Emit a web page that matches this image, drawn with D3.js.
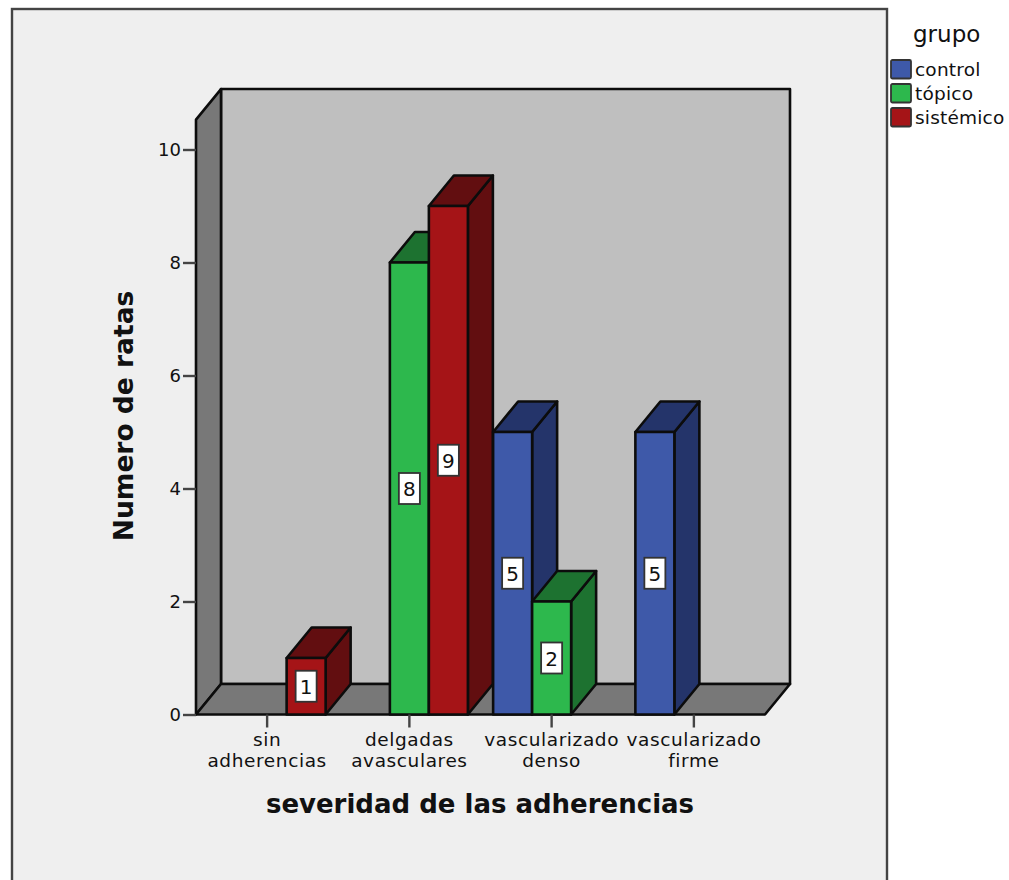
<!DOCTYPE html>
<html>
<head>
<meta charset="utf-8">
<script src="https://cdn.jsdelivr.net/npm/d3@7"></script>
<style>
    html, body { margin: 0; padding: 0; background: #fff; }
    svg { display: block; }
    text { font-family: "DejaVu Sans", sans-serif; fill: #111; }
</style>
</head>
<body>
<script>
var categories = ["sin adherencias", "delgadas avasculares", "vascularizado denso", "vascularizado firme"];
var groups = ["control", "tópico", "sistémico"];
var control = [0, 0, 5, 5];
var topico = [0, 8, 2, 0];
var sistemico = [1, 9, 0, 0];
var yTicks = [0, 2, 4, 6, 8, 10];

var frontColors = ["#3e59a9", "#2db84d", "#a51417"];
var sideColors = ["#24346a", "#1d7230", "#620e10"];

function main() {
    var width = 1009, height = 880;
    var depthX = 25, depthY = 30.5;
    var ink = "#0c0c0c";

    var svg = d3.select("body").append("svg")
        .attr("width", width).attr("height", height);

    // outer frame, runs off the bottom of the page
    svg.append("rect")
        .attr("x", 12).attr("y", 9).attr("width", 875).attr("height", 900)
        .attr("fill", "#efefef").attr("stroke", "#444").attr("stroke-width", 2.4);

    var x = d3.scaleBand().domain(categories).range([196, 765]);
    var y = d3.scaleLinear().domain([0, 10]).range([714.5, 149.5]);
    var inner = d3.scaleBand().domain(groups).range([0, 117])
        .paddingInner(0).paddingOuter(0);

    var floorY = y(0), topY = y(10.53);
    var left = x.range()[0], right = x.range()[1];

    function poly(points, fill) {
        return svg.append("polygon")
            .attr("points", points.map(function(p) { return p.join(","); }).join(" "))
            .attr("fill", fill)
            .attr("stroke", ink).attr("stroke-width", 2.6)
            .attr("stroke-linejoin", "round");
    }

    // box walls
    poly([[left + depthX, topY - depthY], [right + depthX, topY - depthY],
          [right + depthX, floorY - depthY], [left + depthX, floorY - depthY]], "#bfbfbf");
    poly([[left, floorY], [left + depthX, floorY - depthY],
          [left + depthX, topY - depthY], [left, topY]], "#787878");
    poly([[left, floorY], [right, floorY],
          [right + depthX, floorY - depthY], [left + depthX, floorY - depthY]], "#787878");

    // bars go left to right so later ones cover the sides of earlier ones
    var series = [control, topico, sistemico];
    var labels = [];
    categories.forEach(function(cat, c) {
        groups.forEach(function(g, s) {
            var v = series[s][c];
            if (!v) return;
            var x0 = x(cat) + x.bandwidth() / 2 - inner.bandwidth() * 1.5 + inner(g);
            var x1 = x0 + inner.bandwidth();
            var yv = y(v);
            poly([[x1, floorY], [x1 + depthX, floorY - depthY], [x1 + depthX, yv - depthY], [x1, yv]], sideColors[s]);
            poly([[x0, yv], [x0 + depthX, yv - depthY], [x1 + depthX, yv - depthY], [x1, yv]], sideColors[s]);
            poly([[x0, floorY], [x1, floorY], [x1, yv], [x0, yv]], frontColors[s]);
            labels.push({ v: v, cx: (x0 + x1) / 2, cy: y(v / 2) });
        });
    });

    // value boxes on the bar fronts
    var tags = svg.append("g").selectAll("g")
        .data(labels)
        .enter()
        .append("g")
        .attr("transform", function(d) { return "translate(" + d.cx + "," + d.cy + ")"; });
    tags.append("rect")
        .attr("x", -10.5).attr("y", -15.5).attr("width", 21).attr("height", 31)
        .attr("fill", "#fff").attr("stroke", "#333").attr("stroke-width", 1.8);
    tags.append("text")
        .text(function(d) { return d.v; })
        .attr("text-anchor", "middle")
        .attr("y", 7.5)
        .attr("font-size", "20px");

    // axes
    var yAxis = svg.append("g")
        .attr("transform", "translate(" + left + ",0)")
        .call(d3.axisLeft(y).tickValues(yTicks).tickSize(13).tickPadding(2));
    yAxis.select(".domain").remove();
    yAxis.selectAll("line").attr("stroke", "#444").attr("stroke-width", 2.4);
    yAxis.selectAll("text").attr("font-size", "18px").attr("font-family", "DejaVu Sans").attr("fill", "#111");

    var xAxis = svg.append("g")
        .attr("transform", "translate(0," + floorY + ")")
        .call(d3.axisBottom(x).tickSize(13));
    xAxis.select(".domain").remove();
    xAxis.selectAll("line").attr("stroke", "#444").attr("stroke-width", 2.4);
    xAxis.selectAll("text").each(function(d) {
        var t = d3.select(this).text("").attr("y", 31).attr("dy", null)
            .attr("font-size", "18.5px").attr("letter-spacing", "0.6px")
            .attr("font-family", "DejaVu Sans").attr("fill", "#111");
        d.split(" ").forEach(function(w, i) {
            t.append("tspan").attr("x", 0).attr("dy", i ? 21 : 0).text(w);
        });
    });

    // axis titles
    svg.append("text")
        .text("severidad de las adherencias")
        .attr("x", 480).attr("y", 813)
        .attr("text-anchor", "middle")
        .attr("font-size", "26px").attr("font-weight", "bold");
    svg.append("text")
        .text("Numero de ratas")
        .attr("transform", "translate(133,416) rotate(-90)")
        .attr("text-anchor", "middle")
        .attr("font-size", "26.5px").attr("font-weight", "bold");

    // legend
    svg.append("text").text("grupo")
        .attr("x", 913).attr("y", 42)
        .attr("font-size", "23px");
    var legend = svg.append("g").selectAll("g")
        .data(groups)
        .enter()
        .append("g")
        .attr("transform", function(d, i) { return "translate(891," + (60 + i * 24) + ")"; });
    legend.append("rect")
        .attr("width", 20).attr("height", 18.5)
        .attr("rx", 1.5)
        .attr("fill", function(d, i) { return frontColors[i]; })
        .attr("stroke", "#333").attr("stroke-width", 1.8);
    legend.append("text")
        .text(function(d) { return d; })
        .attr("x", 24).attr("y", 16)
        .attr("font-size", "18.5px").attr("letter-spacing", "0.2px");
}

window.onload = main;
</script>
</body>
</html>
